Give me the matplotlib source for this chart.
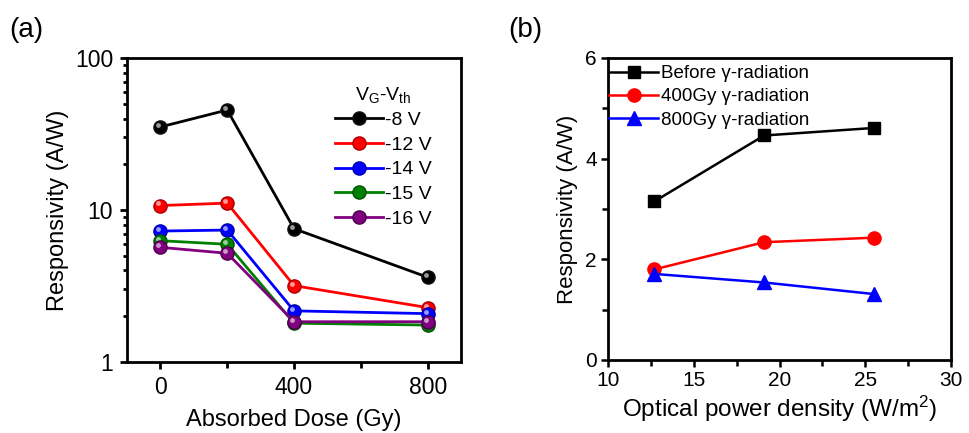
import matplotlib
matplotlib.use("Agg")
import matplotlib.pyplot as plt
from matplotlib.transforms import ScaledTranslation

plt.rcParams['font.family'] = ['Liberation Sans', 'DejaVu Sans']
plt.rcParams['mathtext.fontset'] = 'custom'
plt.rcParams['mathtext.rm'] = 'Liberation Sans'
plt.rcParams['mathtext.it'] = 'Liberation Sans'

# --- panel (a) data: responsivity vs absorbed dose ---
dose = [0, 200, 400, 800]
bias_labels = ["-8 V", "-12 V", "-14 V", "-15 V", "-16 V"]
resp_m8 = [35.2, 45.5, 7.53, 3.61]
resp_m12 = [10.7, 11.1, 3.18, 2.28]
resp_m14 = [7.27, 7.38, 2.17, 2.08]
resp_m15 = [6.28, 5.95, 1.80, 1.75]
resp_m16 = [5.68, 5.19, 1.84, 1.84]
colors_a = ["black", "red", "blue", "green", "purple"]
edge_a = ["#111111", "#aa0000", "#0000aa", "#005500", "#4a004a"]

# --- panel (b) data: responsivity vs optical power density ---
power = [12.7, 19.1, 25.5]
resp_before = [3.15, 4.46, 4.61]
resp_400 = [1.80, 2.34, 2.43]
resp_800 = [1.71, 1.54, 1.31]
labels_b = ["Before \u03b3-radiation", "400Gy \u03b3-radiation", "800Gy \u03b3-radiation"]

fig = plt.figure(figsize=(9.69, 4.33), dpi=100)
ax1 = fig.add_axes([0.1311, 0.164, 0.3447, 0.702])
ax2 = fig.add_axes([0.6275, 0.1686, 0.354, 0.6975])

# --- panel (a) ---
shift = ScaledTranslation(-1.5 / 72, 1.5 / 72, fig.dpi_scale_trans)
handles = []
for vals, c, ec in zip([resp_m8, resp_m12, resp_m14, resp_m15, resp_m16], colors_a, edge_a):
    ln, = ax1.plot(dose, vals, '-o', color=c, lw=2, ms=9.5, mfc=c, mec=ec, mew=1)
    # small highlight so the markers look like spheres
    ax1.plot(dose, vals, 'o', color='white', ms=3.5, alpha=0.6, mew=0,
             transform=ax1.transData + shift)
    handles.append(ln)

ax1.set_yscale('log')
ax1.set_ylim(1, 100)
ax1.set_xlim(-100, 900)
ax1.set_xticks([0, 400, 800])
ax1.set_xticks([200, 600], minor=True)
ax1.set_yticks([1, 10, 100])
ax1.set_yticklabels(["1", "10", "100"])
ax1.set_xlabel("Absorbed Dose (Gy)", fontsize=17, labelpad=7)
ax1.set_ylabel("Responsivity (A/W)", fontsize=17, labelpad=4)
ax1.tick_params(labelsize=16.5, width=2, length=5, direction='out', pad=5)
ax1.tick_params(which='minor', width=2, length=3, direction='out')
ax1.tick_params(axis='x', which='minor', length=4)
leg = ax1.legend(handles, bias_labels, loc='upper right', bbox_to_anchor=(0.965, 0.97),
                 frameon=False, fontsize=14, handlelength=2.5, handletextpad=0.1,
                 labelspacing=0.36, title="V$_G$-V$_{th}$", title_fontsize=14)

# --- panel (b) ---
ax2.plot(power, resp_before, '-s', color='black', lw=1.8, ms=9, label=labels_b[0])
ax2.plot(power, resp_400, '-o', color='red', lw=1.8, ms=9.5, label=labels_b[1])
ax2.plot(power, resp_800, '-^', color='blue', lw=1.8, ms=10, label=labels_b[2])
ax2.set_xlim(10, 30)
ax2.set_ylim(0, 6)
ax2.set_xticks([10, 15, 20, 25, 30])
ax2.set_xticks([12.5, 17.5, 22.5, 27.5], minor=True)
ax2.set_yticks([0, 2, 4, 6])
ax2.set_yticks([1, 3, 5], minor=True)
ax2.set_xlabel("Optical power density (W/m$^2$)", fontsize=17.5, labelpad=3)
ax2.set_ylabel("Responsivity (A/W)", fontsize=16, labelpad=5)
ax2.tick_params(labelsize=15, width=1.8, length=5, direction='out', pad=3)
ax2.tick_params(which='minor', width=1.8, length=4, direction='out')
ax2.legend(loc='upper left', bbox_to_anchor=(-0.045, 1.032), frameon=False, fontsize=13.5,
           handlelength=2.6, handletextpad=0.15, labelspacing=0.32)

for ax in [ax1, ax2]:
    for s in ax.spines.values():
        s.set_linewidth(2)

fig.text(0.010, 0.915, "(a)", fontsize=20)
fig.text(0.525, 0.915, "(b)", fontsize=20)

fig.savefig("out.png", dpi=100)
